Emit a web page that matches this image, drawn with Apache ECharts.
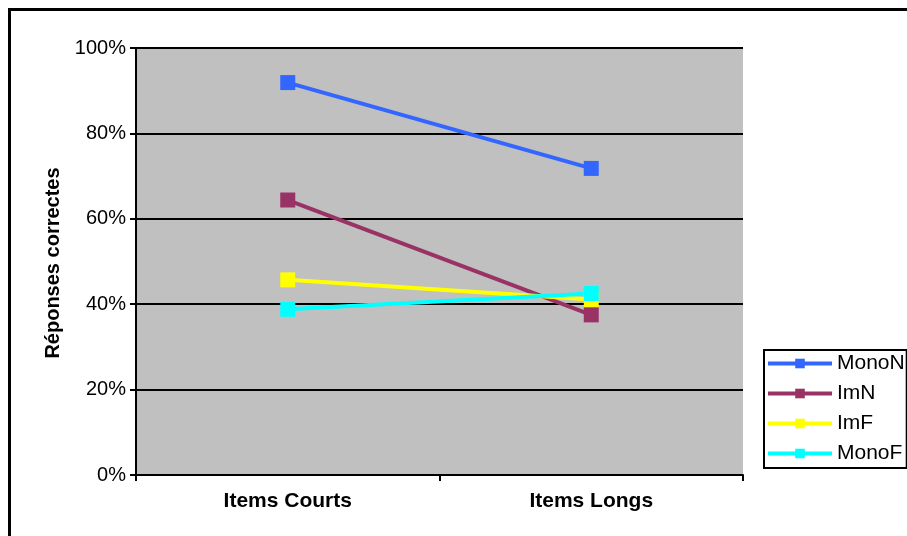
<!DOCTYPE html>
<html>
<head>
<meta charset="utf-8">
<script src="https://cdn.jsdelivr.net/npm/echarts@6/dist/echarts.min.js"></script>
<style>
  html, body { margin: 0; padding: 0; background: #ffffff; }
  #chart { width: 907px; height: 536px; }
</style>
</head>
<body>
<div id="chart"></div>
<script>
// Percentage of correct answers by item length
const categories = ['Items Courts', 'Items Longs'];
const monoN = [91.9, 71.8];
const imN = [64.4, 37.5];
const imF = [45.7, 41.1];
const monoF = [38.8, 42.5];
const yTicks = [0, 20, 40, 60, 80, 100];

const seriesDefs = [
  { name: 'MonoN', data: monoN, color: '#3366FF' },
  { name: 'ImN', data: imN, color: '#993366' },
  { name: 'ImF', data: imF, color: '#FFFF00' },
  { name: 'MonoF', data: monoF, color: '#00FFFF' }
];

const font = 'Arial, "Liberation Sans", sans-serif';
const chart = echarts.init(document.getElementById('chart'), null, { renderer: 'canvas' });

chart.setOption({
  animation: false,
  backgroundColor: '#ffffff',
  textStyle: { fontFamily: font, color: '#000' },
  graphic: [
    {
      type: 'rect',
      z: 0,
      silent: true,
      shape: { x: 9.5, y: 9.5, width: 1000, height: 1000 },
      style: { fill: 'none', stroke: '#000', lineWidth: 3 }
    },
    {
      type: 'text',
      x: 53,
      y: 263,
      rotation: Math.PI / 2,
      style: {
        text: 'Réponses correctes',
        font: 'bold 20px ' + font,
        fill: '#000',
        align: 'center',
        verticalAlign: 'middle'
      }
    }
  ],
  grid: {
    left: 136, right: 164, top: 48, bottom: 61,
    show: true, backgroundColor: '#C0C0C0', borderWidth: 0
  },
  legend: {
    orient: 'vertical',
    left: 764,
    top: 350,
    padding: [3, 2, 4, 2],
    itemWidth: 64,
    itemHeight: 12,
    itemGap: 9,
    borderColor: '#000',
    borderWidth: 2,
    backgroundColor: '#fff',
    lineStyle: { width: 4 },
    textStyle: { fontSize: 21, fontFamily: font, color: '#000', lineHeight: 21 },
    data: seriesDefs.map(s => s.name)
  },
  xAxis: {
    type: 'category',
    data: categories,
    boundaryGap: true,
    axisLine: { lineStyle: { color: '#000', width: 2 } },
    axisTick: { show: true, length: 6, inside: false, lineStyle: { color: '#000', width: 2 } },
    axisLabel: { fontSize: 21, fontWeight: 'bold', color: '#000', margin: 16, fontFamily: font },
    splitLine: { show: false }
  },
  yAxis: {
    type: 'value',
    min: yTicks[0],
    max: yTicks[yTicks.length - 1],
    interval: yTicks[1] - yTicks[0],
    axisLine: { show: true, lineStyle: { color: '#000', width: 2 } },
    axisTick: { show: true, length: 6, inside: false, lineStyle: { color: '#000', width: 2 } },
    axisLabel: { fontSize: 20, color: '#000', margin: 10, fontFamily: font, formatter: '{value}%' },
    splitLine: { show: true, lineStyle: { color: '#000', width: 2 } }
  },
  series: seriesDefs.map(s => ({
    name: s.name,
    type: 'line',
    data: s.data,
    symbol: 'rect',
    symbolSize: 15,
    color: s.color,
    itemStyle: { color: s.color },
    lineStyle: { color: s.color, width: 4 }
  }))
});
</script>
</body>
</html>
